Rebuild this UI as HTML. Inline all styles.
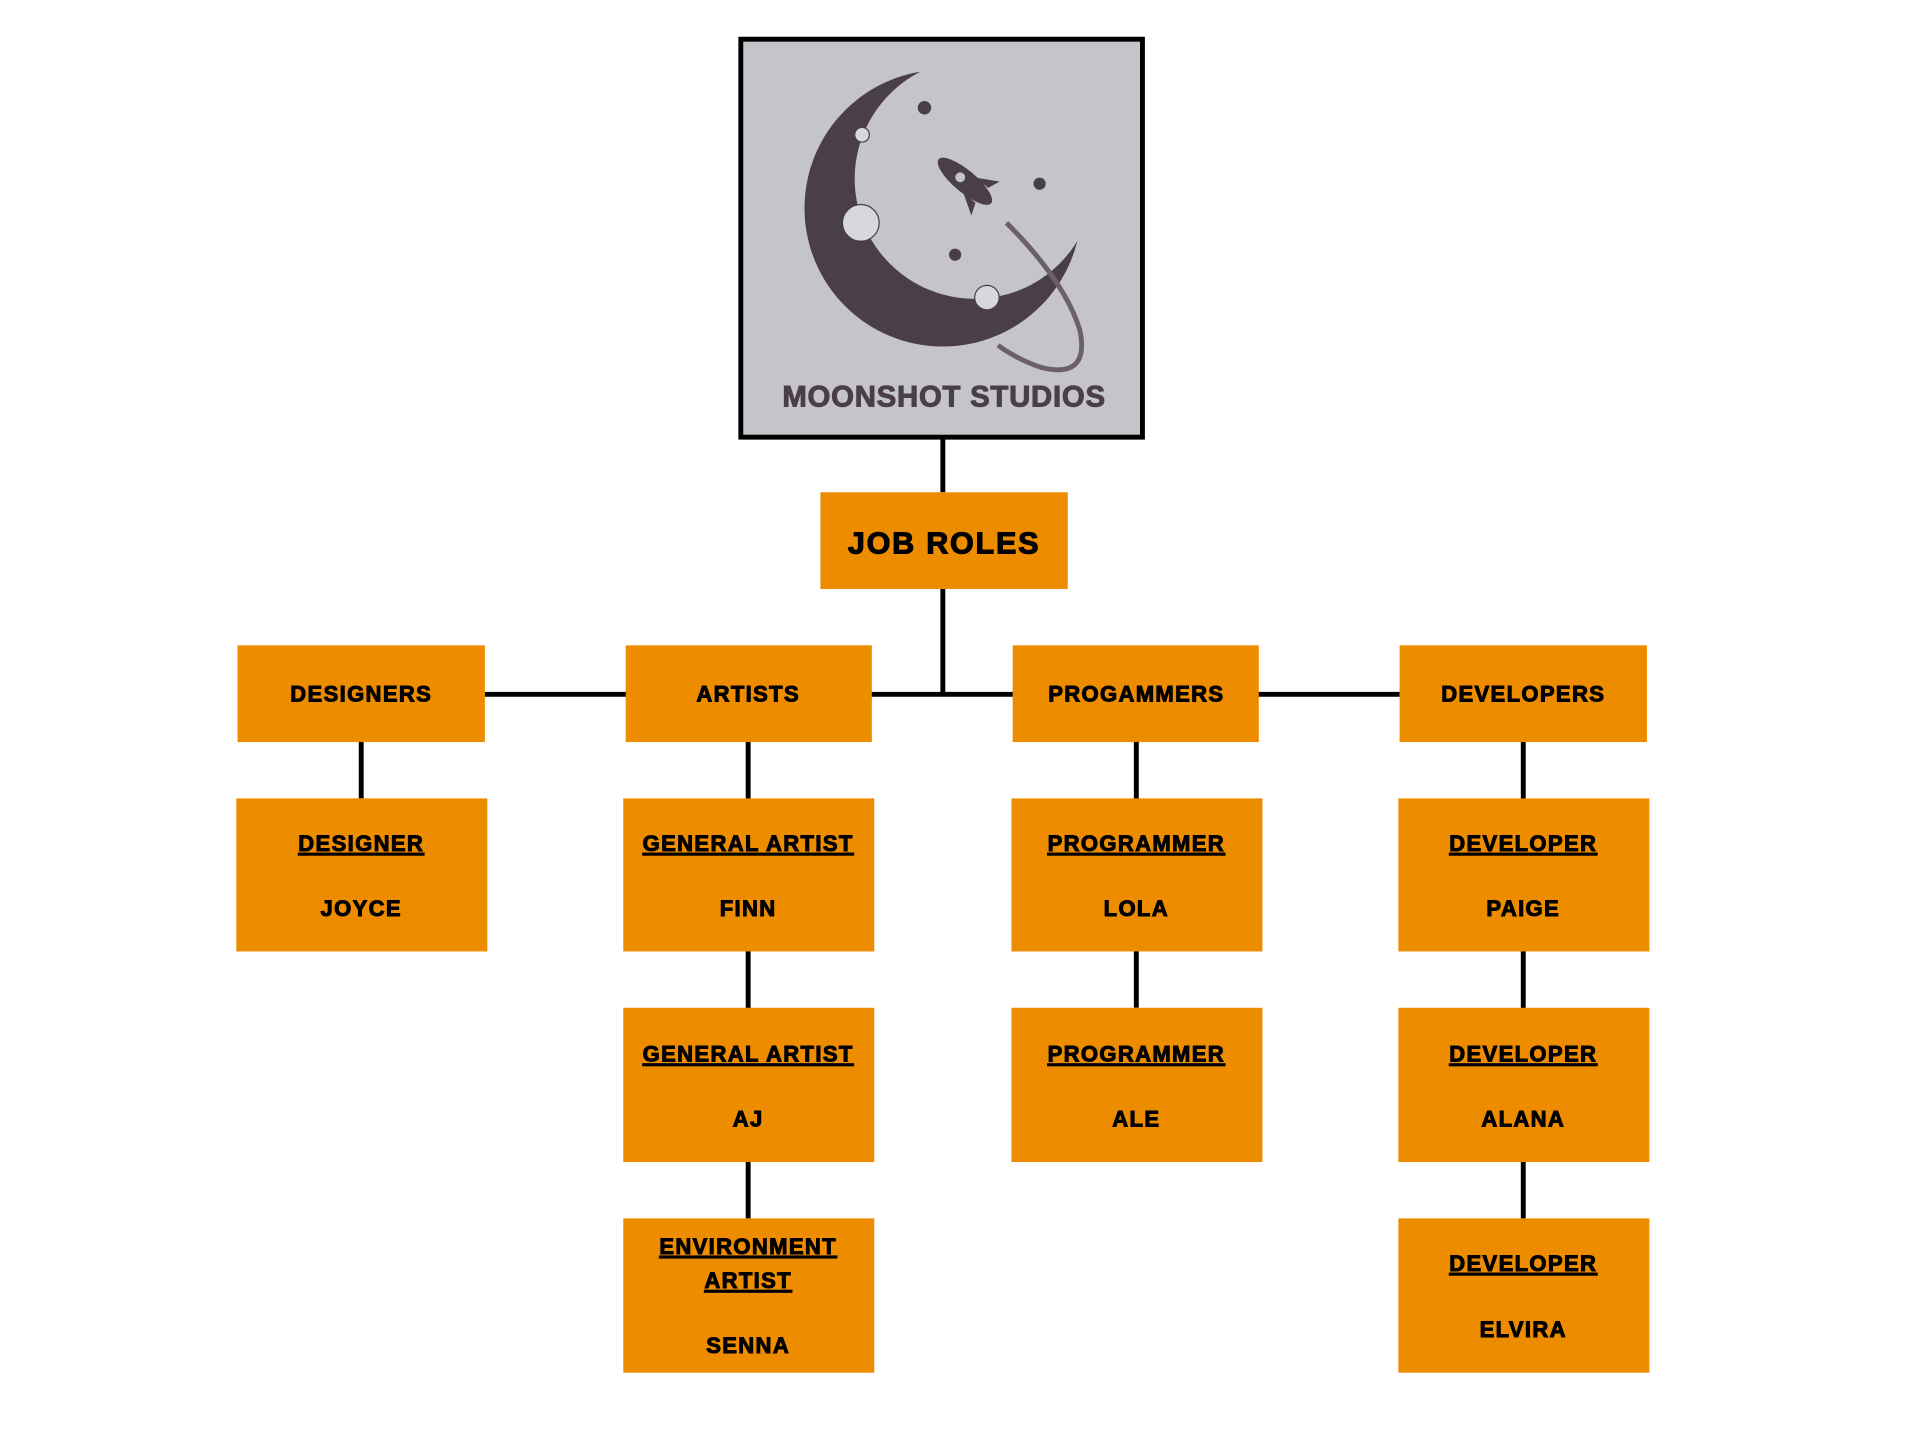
<!DOCTYPE html>
<html><head><meta charset="utf-8"><style>
html,body{margin:0;padding:0;background:#fff;}
svg{display:block;}
text{font-family:"Liberation Sans",Arial,sans-serif;font-weight:bold;fill:#000;text-anchor:middle;}
.t{font-size:18px;letter-spacing:1.1px;stroke:#000;stroke-width:0.8px;}
.u{text-decoration:underline;}
</style></head><body>
<svg width="1920" height="1442" viewBox="0 0 1568 1177.6" xmlns="http://www.w3.org/2000/svg">
<defs>
<mask id="cres">
<rect x="600" y="0" width="400" height="400" fill="#fff"/>
<circle cx="796" cy="146" r="98" fill="#000"/>
</mask>
</defs>
<g stroke="#000" stroke-width="4" fill="none">
<line x1="770" y1="358" x2="770" y2="402"/>
<line x1="770" y1="481" x2="770" y2="567"/>
<line x1="396" y1="567" x2="1143" y2="567"/>
<line x1="295" y1="606" x2="295" y2="652"/>
<line x1="611" y1="606" x2="611" y2="995"/>
<line x1="928" y1="606" x2="928" y2="823"/>
<line x1="1244" y1="606" x2="1244" y2="995"/>
</g>
<rect x="605" y="32" width="328" height="325" fill="#c5c4cb" stroke="#000" stroke-width="4"/>
<circle cx="770" cy="170" r="113" fill="#4a3f48" mask="url(#cres)"/>
<circle cx="704" cy="110" r="6" fill="#d8d7dc" stroke="#4a3f48" stroke-width="1"/>
<circle cx="703" cy="182" r="15" fill="#d8d7dc" stroke="#4a3f48" stroke-width="1"/>
<circle cx="806" cy="243" r="10" fill="#d8d7dc" stroke="#4a3f48" stroke-width="1"/>
<circle cx="755" cy="88" r="5.5" fill="#4a3f48"/>
<circle cx="849" cy="150" r="5" fill="#4a3f48"/>
<circle cx="780" cy="208" r="5" fill="#4a3f48"/>
<path d="M822 182 Q870 230 882 270 Q890 310 850 300 Q830 293 815 282" stroke="#6b6068" stroke-width="4" fill="none"/>
<g transform="translate(788,148) rotate(-50)">
<ellipse cx="0" cy="0" rx="9" ry="28" fill="#4a3f48"/>
<path d="M-8 5 L-18 22 L-8 18 Z M8 5 L18 22 L8 18 Z" fill="#4a3f48"/>
<circle cx="0" cy="-5" r="4" fill="#c5c4cb"/>
</g>
<text x="771" y="332" style="font-size:24px;fill:#4a3f48;stroke:#4a3f48;stroke-width:0.8px;letter-spacing:0.6px">MOONSHOT STUDIOS</text>
<g fill="#ee8c00">
<rect x="670" y="402" width="202" height="79"/>
<rect x="194" y="527" width="202" height="79"/>
<rect x="511" y="527" width="201" height="79"/>
<rect x="827" y="527" width="201" height="79"/>
<rect x="1143" y="527" width="202" height="79"/>
<rect x="193" y="652" width="205" height="125"/>
<rect x="509" y="652" width="205" height="125"/>
<rect x="826" y="652" width="205" height="125"/>
<rect x="1142" y="652" width="205" height="125"/>
<rect x="509" y="823" width="205" height="126"/>
<rect x="826" y="823" width="205" height="126"/>
<rect x="1142" y="823" width="205" height="126"/>
<rect x="509" y="995" width="205" height="126"/>
<rect x="1142" y="995" width="205" height="126"/>
</g>
<text x="771" y="452" style="font-size:25px;letter-spacing:1.4px;stroke:#000;stroke-width:0.9px">JOB ROLES</text>
<text class="t" x="295" y="573">DESIGNERS</text>
<text class="t" x="611" y="573">ARTISTS</text>
<text class="t" x="928" y="573">PROGAMMERS</text>
<text class="t" x="1244" y="573">DEVELOPERS</text>
<text class="t u" x="295" y="695">DESIGNER</text>
<text class="t" x="295" y="748">JOYCE</text>
<text class="t u" x="611" y="695">GENERAL ARTIST</text>
<text class="t" x="611" y="748">FINN</text>
<text class="t u" x="928" y="695">PROGRAMMER</text>
<text class="t" x="928" y="748">LOLA</text>
<text class="t u" x="1244" y="695">DEVELOPER</text>
<text class="t" x="1244" y="748">PAIGE</text>
<text class="t u" x="611" y="867">GENERAL ARTIST</text>
<text class="t" x="611" y="920">AJ</text>
<text class="t u" x="928" y="867">PROGRAMMER</text>
<text class="t" x="928" y="920">ALE</text>
<text class="t u" x="1244" y="867">DEVELOPER</text>
<text class="t" x="1244" y="920">ALANA</text>
<text class="t u" x="611" y="1024">ENVIRONMENT</text>
<text class="t u" x="611" y="1052">ARTIST</text>
<text class="t" x="611" y="1105">SENNA</text>
<text class="t u" x="1244" y="1038">DEVELOPER</text>
<text class="t" x="1244" y="1092">ELVIRA</text>
</svg>
</body></html>
